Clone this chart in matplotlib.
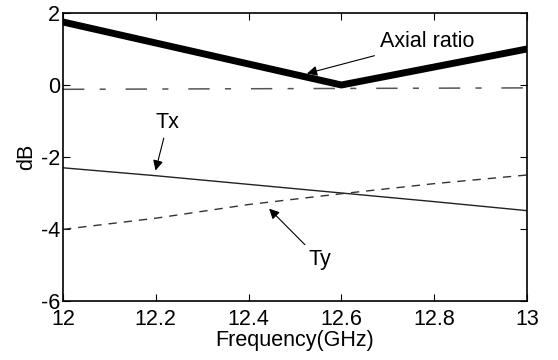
import matplotlib
matplotlib.use("Agg")
import matplotlib.pyplot as plt

plt.rcParams['font.family'] = ['Liberation Sans', 'DejaVu Sans']

freq = [12.0, 12.6, 13.0]
axial_ratio = [1.75, 0.0, 1.0]
ref_freq = [12.0, 13.0]
ref_line = [-0.12, -0.08]
t_freq = [12.0, 12.2, 12.4, 12.6, 12.8, 13.0]
tx = [-2.3, -2.52, -2.76, -3.0, -3.24, -3.49]
ty = [-4.01, -3.70, -3.32, -3.02, -2.74, -2.5]

fig = plt.figure(figsize=(5.58, 3.6), dpi=100)
ax = fig.add_axes([63/558, 1-301/360, (527-63)/558, (301-13)/360])

ax.plot(freq, axial_ratio, color='black', lw=5, solid_capstyle='round')
ax.plot(ref_freq, ref_line, color='#555555', lw=1.1, dashes=(14, 10, 4, 13))
ax.plot(t_freq, tx, color='#222222', lw=1.0)
ax.plot(t_freq, ty, color='#333333', lw=1.0, dashes=(6, 5))

ax.set_xlim(12, 13)
ax.set_ylim(-6, 2)
ax.set_xticks([12, 12.2, 12.4, 12.6, 12.8, 13])
ax.set_xticklabels(['12', '12.2', '12.4', '12.6', '12.8', '13'])
ax.set_yticks([-6, -4, -2, 0, 2])
ax.set_yticklabels(['-6', '-4', '-2', '0', '2'])
ax.tick_params(direction='in', top=True, right=True, labelsize=15.5, length=5, pad=2)
ax.tick_params(axis='x', pad=6)
for s in ax.spines.values():
    s.set_linewidth(1.2)
ax.set_xlabel('Frequency(GHz)', fontsize=15.5, labelpad=0)
ax.set_ylabel('dB', fontsize=15.5, labelpad=3)

arrow = dict(arrowstyle='-|>', color='black', lw=0.8, mutation_scale=15)
ax.annotate('Axial ratio', xy=(12.52, 0.3), xytext=(12.683, 1.2),
            fontsize=15.5, ha='left', va='center', arrowprops=arrow)
ax.annotate('Tx', xy=(12.198, -2.45), xytext=(12.226, -1.03),
            fontsize=15.5, ha='center', va='center', arrowprops=arrow)
ax.annotate('Ty', xy=(12.44, -3.38), xytext=(12.554, -4.86),
            fontsize=15.5, ha='center', va='center', arrowprops=arrow)

fig.savefig('out.png', dpi=100)
